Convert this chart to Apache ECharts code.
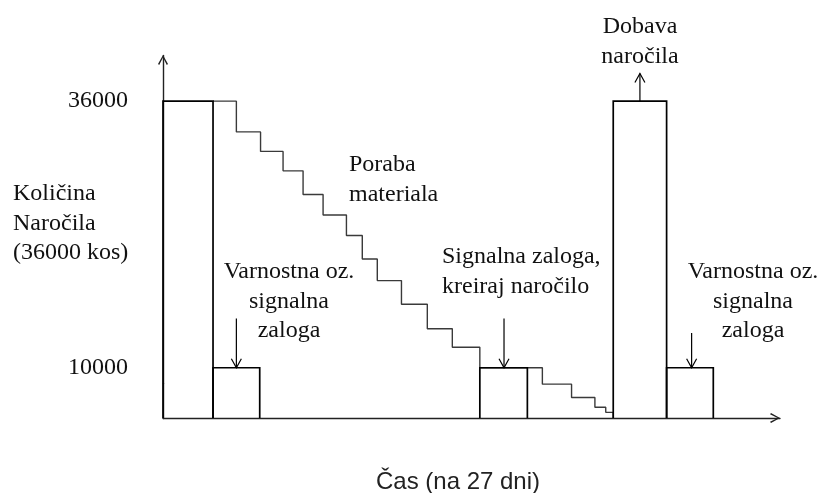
<!DOCTYPE html>
<html><head><meta charset="utf-8">
<script src="https://cdn.jsdelivr.net/npm/echarts@6/dist/echarts.min.js"></script>
<style>html,body{margin:0;padding:0;background:#fff}#c{width:829px;height:493px}</style>
</head><body><div id="c"></div>
<script>
// Bars (rectangles): start day, end day, quantity
const barStart = [0, 3, 19, 27, 30.2];
const barEnd = [3, 5.8, 21.85, 30.2, 33];
const barQty = [36000, 10000, 10000, 36000, 10000];
// Material consumption staircase (day of each drop, level after drop)
const stairDay = [3, 4.4, 5.85, 7.2, 8.4, 9.6, 11.0, 11.95, 12.85, 14.3, 15.85, 17.35, 19.0, 22.75, 24.5, 25.9, 26.55, 27.0];
const stairQty = [36000, 33000, 31100, 29200, 26900, 24900, 22900, 20600, 18500, 16200, 13800, 12000, 10000, 3300, 2000, 1050, 550, 0];
// Y tick labels
const yTicks = [10000, 36000];
// Annotation arrows: day, from quantity, to quantity
const arrowDay = [4.4, 20.45, 31.7, 28.6];
const arrowFrom = [14800, 14800, 13400, 36000];
const arrowTo = [10000, 10000, 10000, 38700];
// Texts
const yTitle = 'Količina\nNaročila\n(36000 kos)';
const xTitle = 'Čas (na 27 dni)';
const txtPoraba = 'Poraba\nmateriala';
const txtVarnostna = 'Varnostna oz.\nsignalna\nzaloga';
const txtSignalna = 'Signalna zaloga,\nkreiraj naročilo';
const txtDobava = 'Dobava\nnaročila';

const SERIF = '24px "Liberation Serif", "Times New Roman", serif';
const SANS = '24px "Liberation Sans", Arial, sans-serif';
const chev = 'path://M5,0 L10,9 L8.8,10 L5,2.4 L1.2,10 L0,9 Z';

const chart = echarts.init(document.getElementById('c'), null, {renderer: 'canvas'});
const option = {
  animation: false,
  backgroundColor: '#fff',
  grid: {left: 163, right: 49, top: 55, bottom: 75, containLabel: false},
  xAxis: {
    type: 'value', min: 0, max: 37,
    axisLine: {show: true, lineStyle: {color: '#222', width: 1.4}, symbol: ['none', chev], symbolSize: [11, 10], symbolOffset: [0, -5]},
    axisTick: {show: false}, axisLabel: {show: false}, splitLine: {show: false}
  },
  yAxis: {
    type: 'value', min: 0, max: 40500,
    breaks: [{start: 3400, end: 8500, gap: 0}],
    breakArea: {show: false},
    axisLine: {show: true, onZero: false, lineStyle: {color: '#222', width: 1.4}, symbol: ['none', chev], symbolSize: [11, 10], symbolOffset: [0, -5]},
    axisTick: {show: false}, splitLine: {show: false},
    axisLabel: {show: true, customValues: yTicks, margin: 35, color: '#111', fontFamily: '"Liberation Serif", "Times New Roman", serif', fontSize: 24,
      padding: [5, 0, 0, 0],
      formatter: function (v) { return String(Math.round(v)); }}
  },
  series: [
    {
      type: 'line', step: 'end', symbol: 'none', silent: true,
      data: stairDay.map((d, i) => [d, stairQty[i]]),
      lineStyle: {color: '#3a3a3a', width: 1.4}, z: 2
    },
    {
      type: 'custom', silent: true, z: 3,
      encode: {x: [0, 1], y: 2},
      data: barStart.map((s, i) => [s, barEnd[i], barQty[i]]),
      renderItem: function (params, api) {
        const x0 = api.value(0), x1 = api.value(1), q = api.value(2);
        const pts = [api.coord([x0, 0]), api.coord([x0, q]), api.coord([x1, q]), api.coord([x1, 0])];
        return {type: 'polyline', shape: {points: pts}, style: {stroke: '#000', lineWidth: 1.7, fill: null}};
      }
    },
    {
      type: 'custom', silent: true, z: 4,
      encode: {x: 0, y: [1, 2]},
      data: arrowDay.map((d, i) => [d, arrowFrom[i], arrowTo[i]]),
      renderItem: function (params, api) {
        const d = api.value(0);
        const a = api.coord([d, api.value(1)]), b = api.coord([d, api.value(2)]);
        const dir = b[1] > a[1] ? 1 : -1;
        return {type: 'group', children: [
          {type: 'line', shape: {x1: a[0], y1: a[1], x2: b[0], y2: b[1]}, style: {stroke: '#000', lineWidth: 1.2}},
          {type: 'polyline', shape: {points: [[b[0] - 5, b[1] - dir * 9], [b[0], b[1]], [b[0] + 5, b[1] - dir * 9]]}, style: {stroke: '#000', lineWidth: 1.2, fill: null}}
        ]};
      }
    }
  ],
  graphic: [
    {type: 'text', style: {text: yTitle, x: 13, y: 179, font: SERIF, fill: '#111', textAlign: 'left', textVerticalAlign: 'top', lineHeight: 29.5}},
    {type: 'text', style: {text: txtPoraba, x: 349, y: 150, font: SERIF, fill: '#111', textAlign: 'left', textVerticalAlign: 'top', lineHeight: 30}},
    {type: 'text', style: {text: txtVarnostna, x: 289, y: 257, font: SERIF, fill: '#111', textAlign: 'center', textVerticalAlign: 'top', lineHeight: 29.5}},
    {type: 'text', style: {text: txtSignalna, x: 442, y: 242, font: SERIF, fill: '#111', textAlign: 'left', textVerticalAlign: 'top', lineHeight: 30}},
    {type: 'text', style: {text: txtVarnostna, x: 753, y: 257, font: SERIF, fill: '#111', textAlign: 'center', textVerticalAlign: 'top', lineHeight: 29.5}},
    {type: 'text', style: {text: txtDobava, x: 640, y: 12, font: SERIF, fill: '#111', textAlign: 'center', textVerticalAlign: 'top', lineHeight: 30}},
    {type: 'text', style: {text: xTitle, x: 458, y: 482, font: SANS, fill: '#222', textAlign: 'center', textVerticalAlign: 'middle'}}
  ]
};
chart.setOption(option);
</script>
</body></html>
